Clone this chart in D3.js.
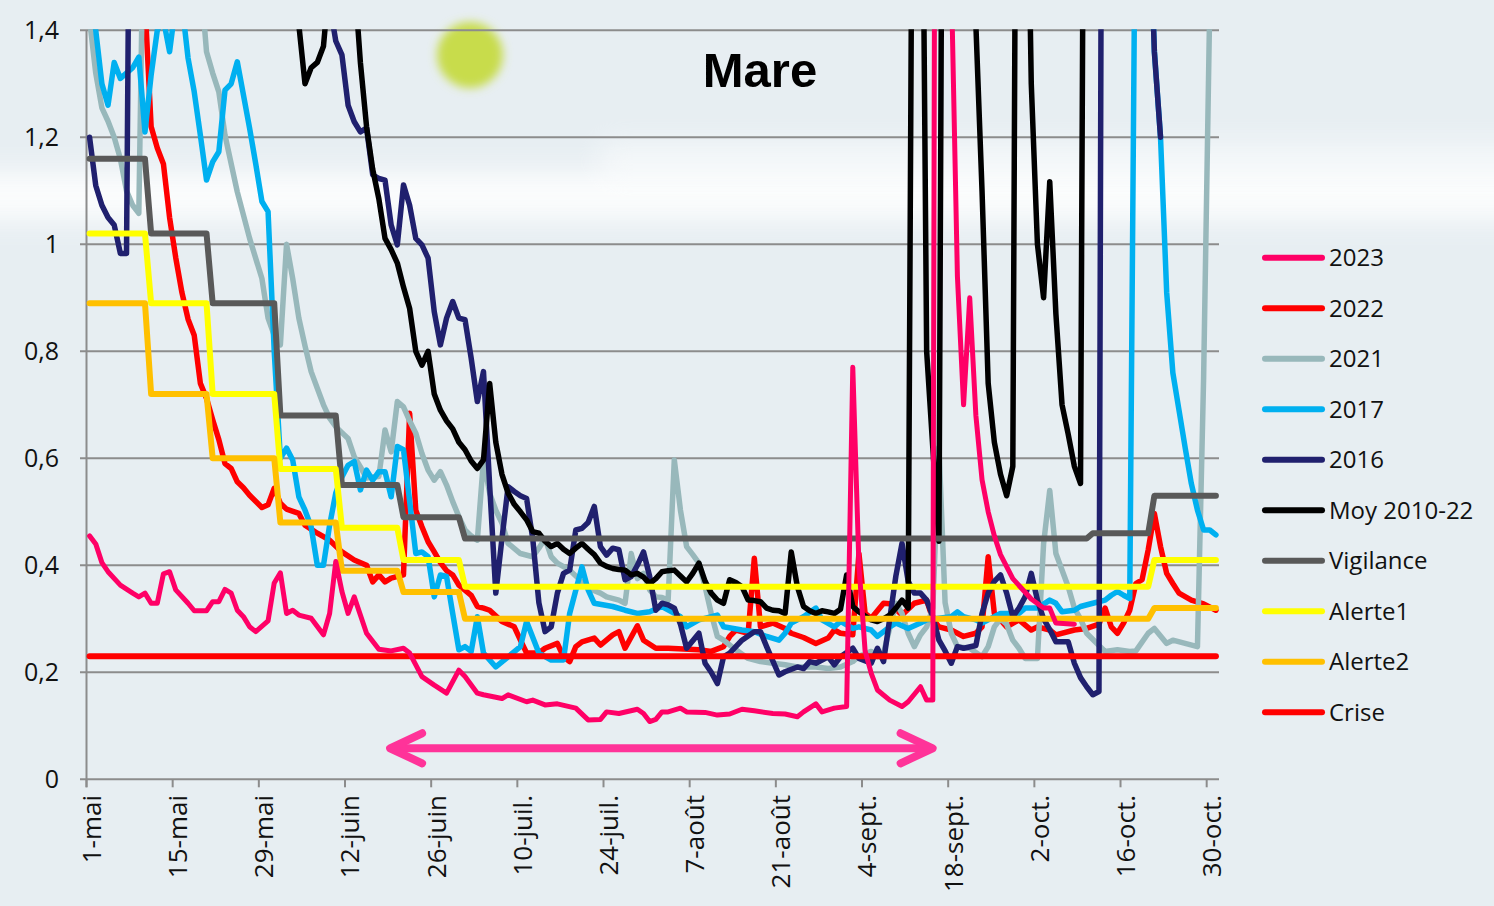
<!DOCTYPE html>
<html>
<head>
<meta charset="utf-8">
<script src="https://cdn.jsdelivr.net/npm/d3@7"></script>
<style>
  body { margin: 0; background: #e7eef2; }
  svg { display: block; }
</style>
</head>
<body>
<svg id="chart" width="1494" height="906"></svg>
<script>
// days are counted from 1-mai (0) to 31-oct. (183)
const tickDays = [0, 14, 28, 42, 56, 70, 84, 98, 112, 126, 140, 154, 168, 182]
const tickLabels = ["1-mai", "15-mai", "29-mai", "12-juin", "26-juin", "10-juil.", "24-juil.",
  "7-août", "21-août", "4-sept.", "18-sept.", "2-oct.", "16-oct.", "30-oct."]
const yTicks = [0, 0.2, 0.4, 0.6, 0.8, 1, 1.2, 1.4]
const yTickLabels = ["0", "0,2", "0,4", "0,6", "0,8", "1", "1,2", "1,4"]

// [day, value]
const s2023 = [[0,0.455],[1,0.44],[2,0.405],[3,0.388],[5,0.363],[7,0.348],[8,0.341],[9,0.348],[10,0.329],[11,0.329],[12,0.384],[13,0.388],[14,0.354],[16,0.329],[17,0.315],[19,0.315],[20,0.332],[21,0.332],[22,0.355],[23,0.348],[24,0.316],[25,0.304],[26,0.285],[27,0.276],[29,0.296],[30,0.367],[31,0.386],[32,0.31],[33,0.316],[34,0.307],[36,0.301],[38,0.27],[39,0.31],[40,0.407],[41,0.351],[42,0.31],[43,0.341],[45,0.273],[47,0.243],[49,0.24],[51,0.245],[52,0.236],[54,0.192],[56,0.176],[58,0.161],[60,0.204],[61,0.192],[63,0.161],[64,0.158],[67,0.151],[68,0.158],[71,0.145],[72,0.148],[74,0.139],[76,0.141],[79,0.133],[81,0.111],[83,0.112],[84,0.126],[86,0.123],[89,0.131],[90,0.123],[91,0.108],[92,0.112],[93,0.126],[94,0.126],[96,0.133],[97,0.126],[100,0.125],[102,0.12],[104,0.122],[106,0.131],[108,0.128],[111,0.123],[113,0.122],[115,0.117],[116,0.126],[118,0.141],[119,0.126],[121,0.133],[123,0.136],[124,0.77],[125,0.40],[126,0.24],[127,0.198],[128,0.167],[130,0.148],[132,0.136],[133,0.145],[135,0.173],[136,0.148],[137,0.148],[138,5.0],[139,3.0],[140,1.5],[141,0.94],[142,0.70],[143,0.90],[144,0.68],[145,0.56],[146,0.50],[147,0.455],[148,0.42],[150,0.375],[153,0.337],[155,0.32],[156,0.32],[157,0.292],[160,0.29]]

const s2022 = [[0,1.9],[3,1.8],[6,1.7],[8,1.6],[9,1.45],[10,1.22],[11,1.18],[12,1.15],[13,1.05],[14,0.975],[15,0.91],[16,0.86],[17,0.83],[18,0.74],[19,0.712],[20,0.672],[21,0.635],[22,0.59],[23,0.581],[24,0.556],[25,0.545],[26,0.531],[28,0.508],[29,0.513],[30,0.544],[31,0.516],[32,0.505],[34,0.497],[35,0.475],[37,0.46],[39,0.447],[41,0.425],[43,0.41],[45,0.40],[46,0.369],[47,0.382],[48,0.369],[49,0.376],[51,0.382],[52,0.684],[53,0.503],[54,0.472],[55,0.444],[56,0.425],[57,0.405],[58,0.39],[59,0.382],[60,0.363],[62,0.344],[63,0.323],[64,0.32],[65,0.316],[67,0.295],[69,0.285],[70,0.26],[71,0.236],[73,0.236],[74,0.245],[76,0.254],[77,0.229],[78,0.22],[79,0.248],[80,0.257],[82,0.264],[83,0.251],[85,0.27],[86,0.276],[87,0.245],[89,0.287],[90,0.26],[92,0.245],[94,0.245],[99,0.242],[101,0.239],[103,0.248],[104,0.267],[105,0.279],[107,0.273],[108,0.413],[109,0.285],[111,0.292],[113,0.282],[114,0.273],[116,0.265],[118,0.254],[120,0.264],[121,0.279],[122,0.273],[124,0.27],[125,0.422],[126,0.31],[127,0.301],[129,0.329],[130,0.328],[132,0.307],[134,0.329],[136,0.335],[137,0.30],[138,0.285],[140,0.279],[142,0.267],[144,0.273],[145,0.285],[146,0.416],[147,0.31],[148,0.298],[149,0.285],[151,0.298],[153,0.279],[154,0.285],[156,0.279],[157,0.27],[160,0.279],[162,0.282],[164,0.29],[165,0.32],[166,0.285],[167,0.273],[168,0.292],[169,0.316],[170,0.366],[171,0.373],[172,0.429],[173,0.497],[174,0.435],[175,0.385],[176,0.366],[177,0.348],[179,0.335],[181,0.328],[183,0.316]]

const s2021 = [[0,1.42],[1,1.32],[2,1.255],[3,1.23],[4,1.20],[5,1.16],[6,1.10],[7,1.073],[8,1.058],[9,1.8],[12,2.0],[15,1.8],[18,1.5],[19,1.36],[20,1.32],[21,1.285],[22,1.204],[24,1.098],[26,1.011],[28,0.936],[29,0.862],[30,0.83],[31,0.812],[32,1.0],[33,0.936],[34,0.862],[35,0.81],[36,0.762],[37,0.731],[38,0.70],[39,0.675],[40,0.659],[41,0.648],[42,0.637],[43,0.603],[44,0.584],[45,0.563],[46,0.565],[47,0.566],[48,0.653],[49,0.612],[50,0.706],[51,0.696],[52,0.67],[53,0.647],[54,0.609],[55,0.578],[56,0.559],[57,0.575],[58,0.55],[59,0.519],[60,0.491],[61,0.466],[62,0.455],[63,0.447],[64,0.597],[65,0.535],[66,0.503],[67,0.479],[68,0.441],[70,0.422],[72,0.416],[73,0.432],[74,0.45],[75,0.416],[76,0.404],[78,0.391],[80,0.369],[81,0.357],[83,0.348],[84,0.341],[86,0.335],[87,0.329],[88,0.422],[89,0.375],[90,0.385],[91,0.354],[92,0.341],[93,0.34],[94,0.335],[95,0.597],[96,0.503],[97,0.435],[98,0.42],[99,0.404],[100,0.36],[101,0.31],[102,0.267],[103,0.26],[105,0.242],[107,0.226],[109,0.22],[111,0.217],[113,0.214],[115,0.21],[118,0.21],[120,0.207],[122,0.21],[124,0.22],[125,0.23],[127,0.239],[128,0.229],[129,0.236],[131,0.329],[132,0.31],[133,0.273],[134,0.248],[135,0.27],[136,0.285],[137,0.32],[138,0.62],[139,0.33],[140,0.273],[141,0.248],[143,0.245],[145,0.229],[146,0.248],[147,0.285],[148,0.30],[149,0.29],[150,0.26],[151,0.245],[152,0.226],[154,0.226],[155,0.44],[156,0.54],[157,0.422],[159,0.36],[160,0.32],[161,0.30],[162,0.273],[164,0.25],[165,0.239],[167,0.242],[169,0.239],[170,0.24],[172,0.273],[173,0.282],[174,0.268],[175,0.254],[176,0.26],[178,0.254],[180,0.248],[181,0.75],[182,1.45],[183,1.8]]

const s2017 = [[0,1.5],[1,1.40],[2,1.30],[3,1.26],[4,1.34],[5,1.31],[6,1.32],[7,1.33],[8,1.35],[9,1.21],[10,1.316],[11,1.40],[12,1.42],[13,1.36],[14,1.45],[15,1.45],[16,1.348],[17,1.285],[18,1.204],[19,1.12],[20,1.154],[21,1.173],[22,1.288],[23,1.30],[24,1.341],[25,1.279],[26,1.217],[27,1.15],[28,1.08],[29,1.061],[30,0.80],[31,0.60],[32,0.619],[33,0.597],[34,0.528],[35,0.503],[36,0.472],[37,0.40],[38,0.40],[39,0.475],[40,0.535],[41,0.565],[42,0.587],[43,0.594],[44,0.541],[45,0.578],[46,0.559],[47,0.575],[48,0.575],[49,0.528],[50,0.622],[51,0.616],[52,0.52],[53,0.422],[54,0.425],[55,0.416],[56,0.341],[57,0.382],[58,0.379],[59,0.31],[60,0.242],[61,0.248],[62,0.239],[63,0.304],[64,0.236],[66,0.21],[68,0.229],[70,0.248],[71,0.295],[73,0.236],[75,0.223],[77,0.223],[78,0.31],[80,0.397],[81,0.354],[82,0.329],[85,0.323],[87,0.316],[89,0.31],[91,0.313],[93,0.323],[96,0.304],[97,0.285],[99,0.298],[102,0.307],[103,0.285],[106,0.279],[108,0.276],[110,0.267],[112,0.26],[113,0.273],[114,0.292],[116,0.304],[118,0.32],[119,0.298],[121,0.285],[122,0.295],[124,0.282],[125,0.285],[127,0.279],[128,0.267],[130,0.285],[131,0.292],[133,0.282],[135,0.292],[136,0.298],[138,0.301],[140,0.304],[141,0.313],[142,0.304],[144,0.298],[145,0.292],[147,0.304],[148,0.31],[151,0.31],[152,0.32],[154,0.32],[156,0.335],[157,0.329],[158,0.313],[160,0.316],[161,0.323],[163,0.329],[165,0.335],[166,0.344],[167,0.351],[168,0.344],[169,0.338],[170,1.8],[171,2.2],[172,1.7],[173,1.36],[174,1.2],[175,0.91],[176,0.76],[177,0.69],[178,0.62],[179,0.553],[180,0.503],[181,0.466],[182,0.466],[183,0.457]]

const s2016 = [[0,1.20],[1,1.11],[2,1.073],[3,1.05],[4,1.036],[5,0.983],[6,0.983],[7,2.5],[10,3.0],[15,3.2],[20,3.0],[25,2.6],[30,2.2],[35,1.9],[39,1.45],[40,1.38],[41,1.354],[42,1.26],[43,1.229],[44,1.21],[45,1.217],[46,1.13],[47,1.123],[48,1.12],[49,1.036],[50,0.999],[51,1.111],[52,1.073],[53,1.011],[54,0.999],[55,0.974],[56,0.874],[57,0.812],[58,0.862],[59,0.893],[60,0.862],[61,0.859],[62,0.787],[63,0.706],[64,0.762],[65,0.55],[66,0.348],[67,0.45],[68,0.547],[69,0.538],[70,0.53],[71,0.525],[72,0.45],[73,0.33],[74,0.276],[75,0.285],[76,0.348],[77,0.385],[78,0.391],[79,0.466],[80,0.469],[81,0.48],[82,0.51],[83,0.435],[84,0.419],[85,0.432],[86,0.429],[87,0.373],[88,0.379],[89,0.40],[90,0.425],[91,0.379],[92,0.316],[93,0.329],[94,0.326],[95,0.32],[96,0.29],[97,0.245],[99,0.273],[100,0.217],[101,0.20],[102,0.179],[103,0.229],[104,0.236],[106,0.26],[108,0.276],[109,0.276],[110,0.248],[112,0.195],[113,0.201],[115,0.21],[116,0.207],[117,0.22],[118,0.217],[120,0.229],[121,0.214],[122,0.229],[124,0.245],[125,0.226],[127,0.217],[128,0.245],[129,0.22],[130,0.30],[131,0.38],[132,0.441],[133,0.37],[134,0.348],[135,0.348],[136,0.335],[137,0.304],[138,0.26],[139,0.24],[140,0.217],[141,0.248],[142,0.245],[144,0.25],[145,0.31],[146,0.348],[147,0.37],[148,0.382],[149,0.348],[150,0.304],[151,0.32],[152,0.341],[153,0.385],[154,0.335],[155,0.30],[156,0.28],[157,0.257],[158,0.257],[159,0.257],[160,0.217],[161,0.19],[162,0.173],[163,0.158],[164,0.164],[165,4.0],[168,3.5],[170,2.5],[172,1.7],[173,1.36],[174,1.2]]

const sMoy = [[0,4.5],[5,4.0],[10,3.5],[15,3.0],[20,2.6],[25,2.2],[30,1.9],[33,1.8],[34,1.41],[35,1.30],[36,1.33],[37,1.34],[38,1.37],[39,1.5],[41,1.6],[43,1.5],[44,1.34],[45,1.22],[46,1.14],[47,1.085],[48,1.011],[49,0.99],[50,0.965],[51,0.92],[52,0.88],[53,0.80],[54,0.774],[55,0.80],[56,0.72],[57,0.69],[58,0.67],[59,0.655],[60,0.63],[61,0.616],[62,0.595],[63,0.581],[64,0.597],[65,0.74],[66,0.63],[67,0.57],[68,0.535],[69,0.514],[70,0.50],[71,0.485],[72,0.463],[73,0.46],[74,0.445],[75,0.435],[76,0.441],[77,0.43],[78,0.422],[79,0.432],[80,0.441],[81,0.43],[82,0.42],[83,0.404],[84,0.398],[85,0.394],[86,0.392],[87,0.391],[88,0.382],[89,0.385],[90,0.378],[91,0.366],[92,0.375],[93,0.388],[94,0.39],[95,0.391],[96,0.38],[97,0.369],[98,0.385],[99,0.404],[100,0.37],[101,0.348],[102,0.335],[103,0.329],[104,0.373],[105,0.368],[106,0.36],[107,0.335],[108,0.334],[109,0.332],[110,0.32],[111,0.316],[112,0.315],[113,0.31],[114,0.425],[115,0.36],[116,0.323],[117,0.315],[118,0.31],[119,0.315],[120,0.313],[121,0.31],[122,0.318],[123,0.382],[124,0.323],[125,0.313],[126,0.305],[127,0.298],[128,0.295],[129,0.30],[130,0.307],[131,0.32],[132,0.335],[133,0.32],[134,2.5],[135,2.2],[136,0.80],[137,0.62],[138,0.445],[139,3.0],[141,2.4],[143,1.9],[144,1.41],[145,1.1],[146,0.74],[147,0.63],[148,0.57],[149,0.53],[150,0.585],[151,3.0],[152,2.0],[153,1.30],[154,1.0],[155,0.90],[156,1.117],[157,0.87],[158,0.70],[159,0.645],[160,0.585],[161,0.553],[162,3.0],[165,2.6],[170,2.2],[175,2.0],[180,1.9],[183,1.8]]

// thresholds, one value per ten-day period
const periodStarts = [0, 10, 20, 31, 41, 51, 61, 71, 81, 92, 102, 112, 123, 133, 143, 153, 163, 173]
const lastDay = 183
const vigilance = [1.16, 1.02, 0.89, 0.68, 0.55, 0.49, 0.45, 0.45, 0.45, 0.45, 0.45, 0.45, 0.45, 0.45, 0.45, 0.45, 0.46, 0.53]
const alerte1 = [1.02, 0.89, 0.72, 0.58, 0.47, 0.41, 0.36, 0.36, 0.36, 0.36, 0.36, 0.36, 0.36, 0.36, 0.36, 0.36, 0.36, 0.41]
const alerte2 = [0.89, 0.72, 0.60, 0.48, 0.39, 0.35, 0.30, 0.30, 0.30, 0.30, 0.30, 0.30, 0.30, 0.30, 0.30, 0.30, 0.30, 0.32]
const crise = [0.23, 0.23, 0.23, 0.23, 0.23, 0.23, 0.23, 0.23, 0.23, 0.23, 0.23, 0.23, 0.23, 0.23, 0.23, 0.23, 0.23, 0.23]

// low-water period marked by the arrow
const arrowDays = [48.5, 137.3]
const arrowLevel = 0.058

const steps = vals => vals.flatMap((v, i) => {
	const end = i < periodStarts.length - 1 ? periodStarts[i + 1] - 1 : lastDay
	return [[periodStarts[i], v], [end, v]]
})

const series = [
	{ name: "2023", data: s2023, color: "#ff0066", width: 5 },
	{ name: "2022", data: s2022, color: "#ff0000", width: 5.5 },
	{ name: "2021", data: s2021, color: "#98b8bb", width: 5.5 },
	{ name: "2017", data: s2017, color: "#00b0f0", width: 5.5 },
	{ name: "2016", data: s2016, color: "#20206e", width: 5.5 },
	{ name: "Moy 2010-22", data: sMoy, color: "#000000", width: 5.5 },
	{ name: "Vigilance", data: steps(vigilance), color: "#595959", width: 6 },
	{ name: "Alerte1", data: steps(alerte1), color: "#ffff00", width: 6 },
	{ name: "Alerte2", data: steps(alerte2), color: "#ffc000", width: 6 },
	{ name: "Crise", data: steps(crise), color: "#ff0000", width: 6 }
]
// the current year sits above everything else
const drawOrder = [1, 2, 3, 4, 5, 6, 7, 8, 9, 0]

const svg = d3.select("#chart")
const x = d3.scaleLinear().domain([-0.5, 183.5]).range([86.5, 1219])
const y = d3.scaleLinear().domain([0, 1.4]).range([779.3, 30.3])

// background picture (blurred band and sun)
const defs = svg.append("defs")
defs.append("filter").attr("id", "blurBig").attr("x", "-20%").attr("y", "-100%").attr("width", "140%").attr("height", "300%")
	.append("feGaussianBlur").attr("stdDeviation", 14)
defs.append("filter").attr("id", "blurSun").attr("x", "-50%").attr("y", "-50%").attr("width", "200%").attr("height", "200%")
	.append("feGaussianBlur").attr("stdDeviation", 5)
defs.append("clipPath").attr("id", "plotClip")
	.append("rect").attr("x", 80).attr("y", y(1.4) - 1).attr("width", 1145).attr("height", y(0) - y(1.4) + 12)

svg.append("rect").attr("width", 1494).attr("height", 906).attr("fill", "#e7eef2")
svg.append("rect").attr("x", -40).attr("y", 172).attr("width", 1580).attr("height", 48)
	.attr("fill", "#ffffff").attr("opacity", 0.85).attr("filter", "url(#blurBig)")
svg.append("rect").attr("x", 600).attr("y", 142).attr("width", 940).attr("height", 40)
	.attr("fill", "#ffffff").attr("opacity", 0.5).attr("filter", "url(#blurBig)")
svg.append("circle").attr("cx", 470).attr("cy", 55).attr("r", 33)
	.attr("fill", "#c8dc4c").attr("filter", "url(#blurSun)")

// grid and axes
const grid = svg.append("g")
grid.selectAll("line.h").data(yTicks).join("line")
	.attr("x1", 80).attr("x2", 1219)
	.attr("y1", d => y(d)).attr("y2", d => y(d))
	.attr("stroke", "#8c8c8c").attr("stroke-width", 2)
grid.append("line").attr("x1", 86.5).attr("x2", 86.5).attr("y1", y(1.4)).attr("y2", y(0) + 8)
	.attr("stroke", "#8c8c8c").attr("stroke-width", 2)
grid.selectAll("line.t").data(tickDays).join("line")
	.attr("x1", d => x(d - 0.5)).attr("x2", d => x(d - 0.5))
	.attr("y1", y(0)).attr("y2", y(0) + 8)
	.attr("stroke", "#8c8c8c").attr("stroke-width", 2)

svg.append("g").selectAll("text").data(yTicks).join("text")
	.attr("x", 59).attr("y", d => y(d)).attr("dy", "0.36em")
	.attr("text-anchor", "end")
	.attr("style", "font-family:'Open Sans';font-size:25px;fill:#111")
	.text((d, i) => yTickLabels[i])

svg.append("g").selectAll("text").data(tickDays).join("text")
	.attr("transform", d => `translate(${x(d - 0.5) + 5},795) rotate(-90)`)
	.attr("dy", "0.36em")
	.attr("text-anchor", "end")
	.attr("style", "font-family:'Open Sans';font-size:26px;fill:#111")
	.text((d, i) => tickLabels[i])

// lines
const line = d3.line().x(d => x(d[0])).y(d => y(d[1]))
const plot = svg.append("g").attr("clip-path", "url(#plotClip)")
drawOrder.forEach(i => {
	const s = series[i]
	plot.append("path")
		.attr("d", line(s.data))
		.attr("fill", "none")
		.attr("stroke", s.color)
		.attr("stroke-width", s.width)
		.attr("stroke-linejoin", "round")
		.attr("stroke-linecap", "round")
})

// double arrow
const ax0 = x(arrowDays[0])
const ax1 = x(arrowDays[1])
const ay = y(arrowLevel)
const arrow = svg.append("g").attr("stroke", "#ff3399").attr("stroke-width", 8)
	.attr("stroke-linecap", "round").attr("stroke-linejoin", "round").attr("fill", "none")
arrow.append("line").attr("x1", ax0 + 4).attr("x2", ax1 - 4).attr("y1", ay).attr("y2", ay)
arrow.append("polyline").attr("points", `${ax0 + 34},${ay - 15} ${ax0 + 2},${ay} ${ax0 + 34},${ay + 15}`)
arrow.append("polyline").attr("points", `${ax1 - 34},${ay - 15} ${ax1 - 2},${ay} ${ax1 - 34},${ay + 15}`)

// title
svg.append("text").attr("x", 760).attr("y", 87).attr("text-anchor", "middle")
	.attr("style", "font-family:'Liberation Sans';font-weight:bold;font-size:49px;fill:#000")
	.text("Mare")

// legend
const legend = svg.append("g")
series.forEach((s, i) => {
	const ly = 257.7 + i * 50.5
	legend.append("line").attr("x1", 1265).attr("x2", 1322).attr("y1", ly).attr("y2", ly)
		.attr("stroke", s.color).attr("stroke-width", 6).attr("stroke-linecap", "round")
	legend.append("text").attr("x", 1329).attr("y", ly).attr("dy", "0.36em")
		.attr("style", "font-family:'Open Sans';font-size:24px;fill:#111")
		.text(s.name)
})
</script>
</body>
</html>
